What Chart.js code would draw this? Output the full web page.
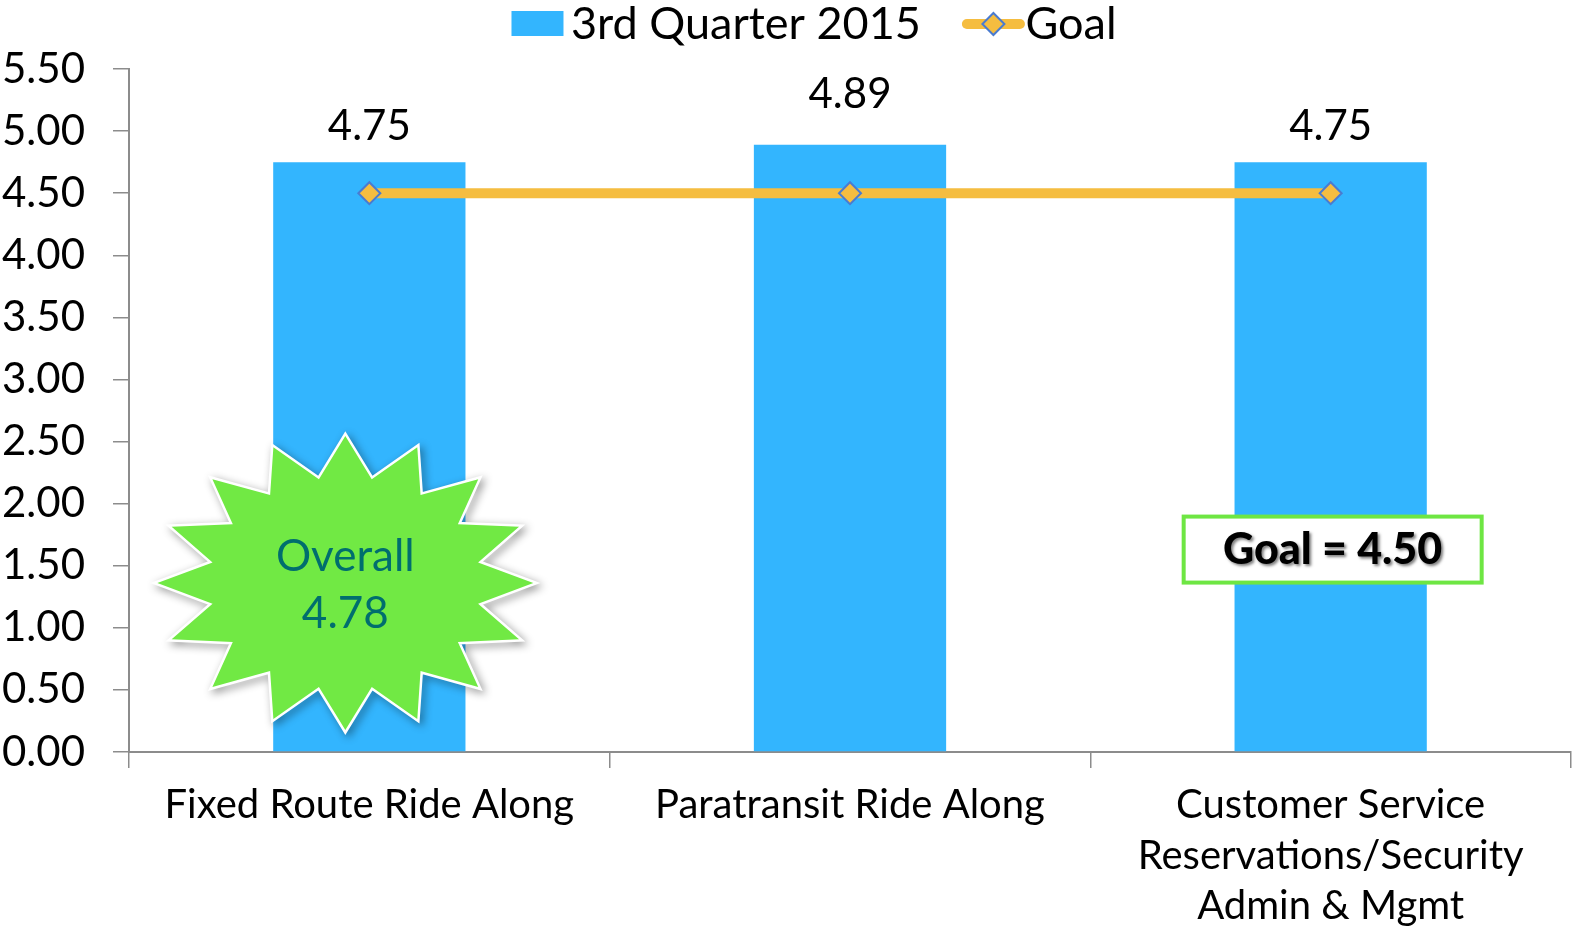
<!DOCTYPE html>
<html>
<head>
<meta charset="utf-8">
<script src="https://cdn.jsdelivr.net/npm/chart.js@4.4.1/dist/chart.umd.min.js"></script>
<style>
    html, body { margin: 0; padding: 0; background: #fff; }
    #wrap { width: 1576px; height: 930px; }
</style>
</head>
<body>
<div id="wrap"><canvas id="chartCanvas" width="1576" height="930"></canvas></div>
<script>
// Chart data
const categories = [
    ['Fixed Route Ride Along'],
    ['Paratransit Ride Along'],
    ['Customer Service', 'Reservations/Security', 'Admin & Mgmt'],
];
const quarterValues = [4.75, 4.89, 4.75];
const goalValues = [4.5, 4.5, 4.5];
const Y_MIN = 0;
const Y_MAX = 5.5;
const Y_STEP = 0.5;

const FONT = 'Lato, "Open Sans", sans-serif';
const BAR_COLOR = '#33B5FE';
const GOAL_COLOR = '#F5BD40';
const MARKER_EDGE = '#4A7BD0';
const AXIS_COLOR = '#8c8c8c';
// the middle label sits a bit higher in the original
const LABEL_LIFT = [36, 50, 36];

// Value labels above the bars
const barLabels = {
    id: 'barLabels',
    afterDatasetsDraw(chart) {
        const meta = chart.getDatasetMeta(0);
        const ctx = chart.ctx;
        ctx.save();
        ctx.font = '42px ' + FONT;
        ctx.fillStyle = '#000';
        ctx.textAlign = 'center';
        ctx.textBaseline = 'middle';
        meta.data.forEach(function (bar, i) {
            ctx.fillText(quarterValues[i].toFixed(2), bar.x, bar.y - LABEL_LIFT[i]);
        });
        ctx.restore();
    },
};

// "Overall" starburst and "Goal" box
const callouts = {
    id: 'callouts',
    afterDraw(chart) {
        const ctx = chart.ctx;
        const x = chart.scales.x;
        const y = chart.scales.y;

        // starburst
        const cx = x.getPixelForValue(0) - 24;
        const cy = y.getPixelForValue(1.36);
        const rx = 188, ry = 147, inner = 0.72, n = 16;
        ctx.save();
        ctx.beginPath();
        for (let i = 0; i < n * 2; i++) {
            const a = -Math.PI / 2 + i * Math.PI / n;
            const k = i % 2 === 0 ? 1 : inner;
            const px = cx + Math.cos(a) * rx * k;
            const py = cy + Math.sin(a) * ry * k;
            if (i === 0) ctx.moveTo(px, py); else ctx.lineTo(px, py);
        }
        ctx.closePath();
        ctx.shadowColor = 'rgba(0,0,0,0.45)';
        ctx.shadowBlur = 8;
        ctx.shadowOffsetX = 3;
        ctx.shadowOffsetY = 3;
        ctx.lineJoin = 'miter';
        ctx.lineWidth = 5;
        ctx.strokeStyle = '#fff';
        ctx.stroke();
        ctx.shadowColor = 'transparent';
        ctx.fillStyle = '#71E944';
        ctx.fill();
        ctx.fillStyle = '#006E6E';
        ctx.font = '44px ' + FONT;
        ctx.textAlign = 'center';
        ctx.textBaseline = 'middle';
        ctx.fillText('Overall', cx, cy - 26);
        ctx.fillText('4.78', cx, cy + 31);
        ctx.restore();

        // goal box
        const bx = x.getPixelForValue(2) + 2;
        const by = y.getPixelForValue(1.63);
        const bw = 298, bh = 66;
        ctx.save();
        ctx.fillStyle = '#fff';
        ctx.fillRect(bx - bw / 2, by - bh / 2, bw, bh);
        ctx.lineWidth = 4;
        ctx.strokeStyle = '#6EE643';
        ctx.strokeRect(bx - bw / 2, by - bh / 2, bw, bh);
        ctx.font = '900 43px ' + FONT;
        ctx.textAlign = 'center';
        ctx.textBaseline = 'middle';
        ctx.shadowColor = 'rgba(0,0,0,0.5)';
        ctx.shadowBlur = 3;
        ctx.shadowOffsetX = 2;
        ctx.shadowOffsetY = 2;
        ctx.fillStyle = '#000';
        ctx.fillText('Goal = 4.50', bx, by + 1);
        ctx.restore();
    },
};

// legend: shift it a little right, then draw its symbols
const legendSymbols = {
    id: 'legendSymbols',
    afterLayout(chart) {
        if (chart.legend) chart.legend.left += 57;
    },
    afterDraw(chart) {
        const legend = chart.legend;
        if (!legend || legend.legendHitBoxes.length < 2) return;
        const ctx = chart.ctx;
        const b0 = legend.legendHitBoxes[0];
        const b1 = legend.legendHitBoxes[1];
        ctx.save();
        const m0 = b0.top + b0.height / 2;
        ctx.fillStyle = BAR_COLOR;
        ctx.fillRect(b0.left, m0 - 13, 52, 25);

        const midY = b1.top + b1.height / 2;
        const x0 = b1.left + 1, x1 = b1.left + 54;
        ctx.strokeStyle = GOAL_COLOR;
        ctx.lineWidth = 10;
        ctx.lineCap = 'round';
        ctx.beginPath();
        ctx.moveTo(x0, midY);
        ctx.lineTo(x1, midY);
        ctx.stroke();
        const mx = (x0 + x1) / 2, r = 11;
        ctx.beginPath();
        ctx.moveTo(mx, midY - r);
        ctx.lineTo(mx + r, midY);
        ctx.lineTo(mx, midY + r);
        ctx.lineTo(mx - r, midY);
        ctx.closePath();
        ctx.fillStyle = GOAL_COLOR;
        ctx.fill();
        ctx.lineWidth = 2;
        ctx.strokeStyle = MARKER_EDGE;
        ctx.stroke();
        ctx.restore();
    },
};

new Chart(document.getElementById('chartCanvas'), {
    type: 'bar',
    data: {
        labels: categories,
        datasets: [
            {
                label: '3rd Quarter 2015',
                data: quarterValues,
                backgroundColor: BAR_COLOR,
                categoryPercentage: 0.8,
                barPercentage: 0.5,
                order: 2,
            },
            {
                type: 'line',
                label: 'Goal',
                data: goalValues,
                borderColor: GOAL_COLOR,
                backgroundColor: GOAL_COLOR,
                borderWidth: 10,
                pointStyle: 'rectRot',
                pointRadius: 11,
                pointBorderColor: MARKER_EDGE,
                pointBorderWidth: 2,
                pointBackgroundColor: GOAL_COLOR,
                order: 1,
            },
        ],
    },
    options: {
        responsive: false,
        animation: false,
        devicePixelRatio: 1,
        layout: {
            autoPadding: false,
            padding: { left: 0, right: 5, top: -56, bottom: 0 },
        },
        plugins: {
            tooltip: { enabled: false },
            legend: {
                position: 'top',
                labels: {
                    font: { family: FONT, size: 45 },
                    color: '#000',
                    boxWidth: 37,
                    boxHeight: 70,
                    padding: 45,
                    generateLabels: function (chart) {
                        return chart.data.datasets.map(function (ds, i) {
                            return {
                                text: ds.label,
                                fillStyle: 'rgba(0,0,0,0)',
                                strokeStyle: 'rgba(0,0,0,0)',
                                lineWidth: 0,
                                datasetIndex: i,
                                fontColor: '#000',
                            };
                        });
                    },
                },
            },
        },
        scales: {
            x: {
                afterFit: function (scale) { scale.height = 178; },
                grid: {
                    display: true,
                    drawOnChartArea: false,
                    drawTicks: true,
                    tickLength: 16,
                    color: AXIS_COLOR,
                    lineWidth: 1.5,
                    offset: true,
                },
                border: { color: AXIS_COLOR, width: 2 },
                ticks: {
                    font: { family: FONT, size: 40, lineHeight: 1.26 },
                    color: '#000',
                    maxRotation: 0,
                    autoSkip: false,
                    padding: 12,
                },
            },
            y: {
                min: Y_MIN,
                max: Y_MAX,
                afterFit: function (scale) { scale.width = 129; },
                grid: {
                    display: true,
                    drawOnChartArea: false,
                    drawTicks: true,
                    tickLength: 16,
                    color: AXIS_COLOR,
                    lineWidth: 1.5,
                },
                border: { color: AXIS_COLOR, width: 2 },
                ticks: {
                    stepSize: Y_STEP,
                    font: { family: FONT, size: 42 },
                    color: '#000',
                    padding: 28,
                    callback: function (v) { return Number(v).toFixed(2); },
                },
            },
        },
    },
    plugins: [barLabels, callouts, legendSymbols],
});
</script>
</body>
</html>
